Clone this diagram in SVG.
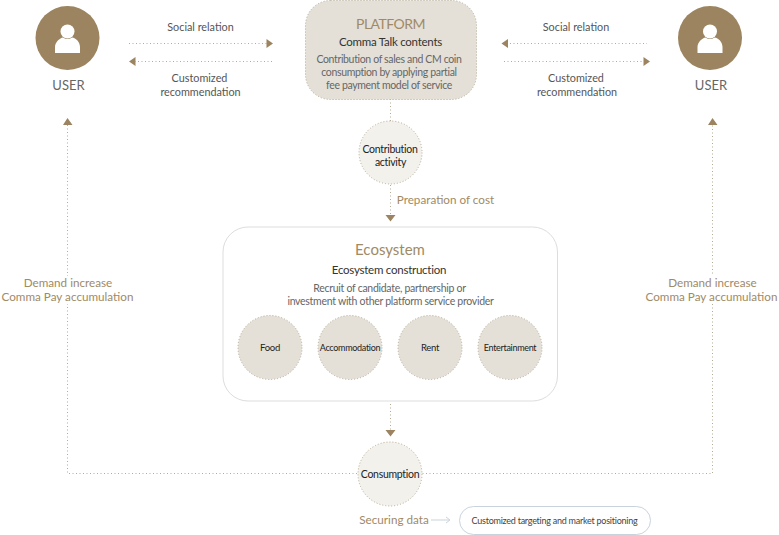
<svg xmlns="http://www.w3.org/2000/svg" width="779" height="535" viewBox="0 0 779 535">
<style>
text{font-family:"Lato","Noto Sans","Liberation Sans",sans-serif;text-anchor:middle}
.g{font-size:10.800px;fill:#555}
.p{font-size:10.500px;letter-spacing:-.35px;fill:#666}
.q{font-size:10.500px;letter-spacing:-.28px;fill:#666}
.d{font-size:10.500px;letter-spacing:-.3px;fill:#222}
.s{font-size:9px;letter-spacing:-.3px;fill:#222}
.f{font-size:9.500px;letter-spacing:-.3px;fill:#222}
.k{font-size:9px;letter-spacing:-.25px;fill:#444}
.b{font-size:11.700px;fill:#a08a66}
.u{font-size:13px;fill:#666}
.t{font-size:15px;fill:#a08a66}
.h{font-size:11.500px;letter-spacing:-.25px;fill:#333}
.c{stroke:#b5aa94;stroke-width:1;stroke-dasharray:1 2.500;fill:none}
.n{stroke:#b5aa94;stroke-width:1;stroke-dasharray:1 2}
.a{fill:#9b845f}
</style>
<g id="connectors">
<path class="c" d="M129 43.500H267M272 61.500H135M510 43.500H647M504 61.500H644M390.500 99V121M390.500 185V215M390.500 404V430M67.500 125V473.500H712.500V125"/>
<path class="a" d="M266.500 39L273 43.500L266.500 48ZM135.500 57L129 61.500L135.500 66ZM508 39L501.500 43.500L508 48ZM643.500 57L650 61.500L643.500 66ZM385.500 215H395.500L390.500 221.500ZM385.500 430H395.500L390.500 436.500ZM63 125L67.500 118L72.500 125ZM708 125L712.500 118L717.500 125Z"/>
<path d="M431 520H449M446 517L450 520L446 523" fill="none" stroke="#c9d3dd"/>
</g>
<g id="user-left">
<circle cx="67.500" cy="38" r="32" class="a"/>
<circle cx="67.500" cy="31.500" r="7" fill="#fff"/>
<path d="M55 53V47C55 42 60 38 63 37.500C66 39.500 69 39.500 72 37.500C76 38 80 42 80 47V53Z" fill="#fff"/>
<text x="68.500" y="89.500" class="u">USER</text>
</g>
<g id="user-right">
<circle cx="710" cy="38" r="32" class="a"/>
<circle cx="710" cy="31.500" r="7" fill="#fff"/>
<path d="M697.500 53V47C697.500 42 702.500 38 705.500 37.500C708.500 39.500 711.500 39.500 714.500 37.500C718.500 38 722.500 42 722.500 47V53Z" fill="#fff"/>
<text x="711" y="89.500" class="u">USER</text>
</g>
<g id="labels">
<text x="200.500" y="31" class="g">Social relation</text>
<text x="199.500" y="81.500" class="g">Customized</text>
<text x="200.500" y="96" class="g">recommendation</text>
<text x="576" y="31" class="g">Social relation</text>
<text x="576" y="81.500" class="g">Customized</text>
<text x="577" y="96" class="g">recommendation</text>
<text x="445.500" y="204" class="b">Preparation of cost</text>
<g id="demand-left"><rect x="2" y="276" width="131" height="28" fill="#fff"/>
<text x="68" y="287" class="b">Demand increase</text>
<text x="67.500" y="301" class="b">Comma Pay accumulation</text></g>
<g id="demand-right"><rect x="646" y="276" width="131" height="28" fill="#fff"/>
<text x="712.500" y="287" class="b">Demand increase</text>
<text x="711.500" y="301" class="b">Comma Pay accumulation</text></g>
<text x="394" y="524" class="b">Securing data</text>
</g>
<g id="platform">
<rect x="305.500" y="0.500" width="171" height="99" rx="25" fill="#e4e0d8" stroke="#b5aa94" stroke-dasharray="1 2"/>
<text x="390.500" y="28.500" class="t" style="font-size:14px;letter-spacing:-.55px">PLATFORM</text>
<text x="390.500" y="45.500" class="h">Comma Talk contents</text>
<text x="389" y="63" class="p">Contribution of sales and CM coin</text>
<text x="389" y="76" class="p">consumption by applying partial</text>
<text x="389" y="89" class="p">fee payment model of service</text>
</g>
<g id="contribution">
<circle cx="390.500" cy="152.500" r="31.500" fill="#f3f1ec" class="n"/>
<text x="390" y="152.500" class="d">Contribution</text>
<text x="390.500" y="165.500" class="d">activity</text>
</g>
<g id="ecosystem">
<rect x="223" y="227" width="334.500" height="174" rx="25" fill="#fff" stroke="#ddd"/>
<text x="390" y="255" class="t">Ecosystem</text>
<text x="389" y="273.500" class="h">Ecosystem construction</text>
<text x="389.500" y="292" class="q">Recruit of candidate, partnership or</text>
<text x="390.500" y="305" class="q">investment with other platform service provider</text>
</g>
<g id="food"><circle cx="270" cy="347.500" r="32" fill="#e4e0d8" class="n"/><text x="270" y="350.500" class="f">Food</text></g>
<g id="accommodation"><circle cx="350" cy="347.500" r="32" fill="#e4e0d8" class="n"/><text x="350" y="350.500" class="s">Accommodation</text></g>
<g id="rent"><circle cx="430" cy="347.500" r="32" fill="#e4e0d8" class="n"/><text x="430" y="350.500" class="f">Rent</text></g>
<g id="entertainment"><circle cx="510" cy="347.500" r="32" fill="#e4e0d8" class="n"/><text x="510" y="350.500" class="s">Entertainment</text></g>
<g id="consumption">
<circle cx="390" cy="474" r="32" fill="#f3f1ec" class="n"/>
<text x="390" y="477.500" class="d">Consumption</text>
</g>
<g id="targeting">
<rect x="459.500" y="506.500" width="191" height="28" rx="14" fill="#fff" stroke="#c9d3dd"/>
<text x="554.500" y="523.500" class="k">Customized targeting and market positioning</text>
</g>
</svg>
